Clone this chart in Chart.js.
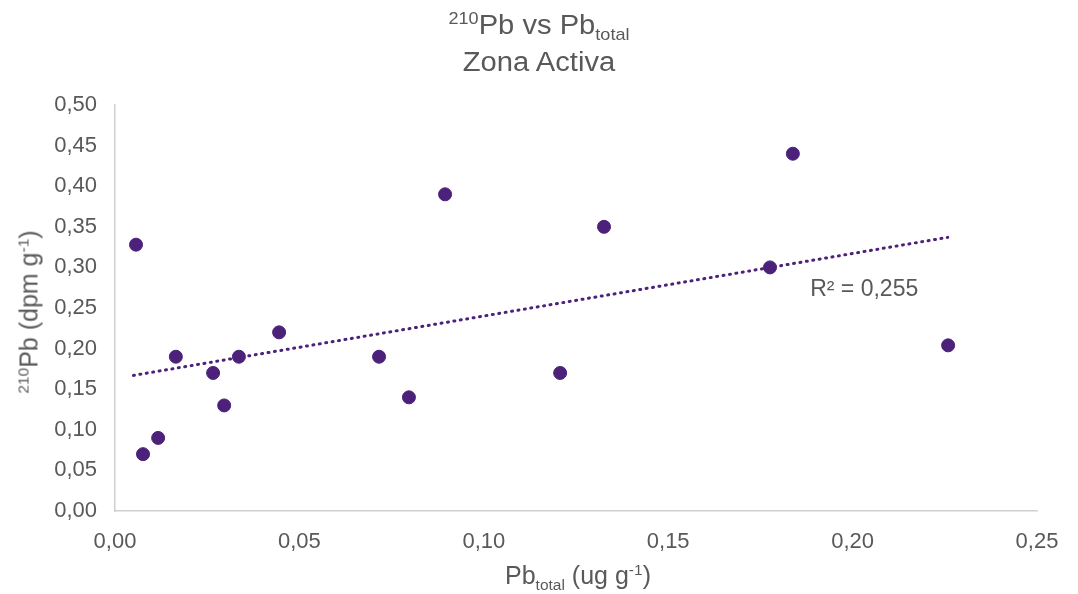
<!DOCTYPE html>
<html>
<head>
<meta charset="utf-8">
<script src="https://cdn.jsdelivr.net/npm/chart.js@4.4.1/dist/chart.umd.min.js"></script>
<style>
  html, body { margin: 0; padding: 0; background: #fff; }
  #wrap { position: relative; width: 1078px; height: 594px; font-family: "Liberation Sans", Arial, sans-serif; color: #595959; }
  canvas { position: absolute; left: 0; top: 0; }
  .lbl { position: absolute; white-space: nowrap; line-height: 1; }
  sup, sub { font-size: 62%; line-height: 0; }
  .title { left: 0; width: 1078px; text-align: center; font-size: 27px; transform: scaleX(1.08); }
  #title1 { top: 12px; }
  #title2 { top: 49px; }
  #xTitle { left: 0; width: 1156px; top: 563px; text-align: center; font-size: 25px; }
  #yTitle { left: 29px; top: 312px; font-size: 25px; transform: translate(-50%, -50%) rotate(-90deg); }
</style>
</head>
<body>
<div id="wrap">
  <canvas id="scatterChart" width="1078" height="594"></canvas>
  <div class="lbl title" id="title1"><sup>210</sup>Pb vs Pb<sub>total</sub></div>
  <div class="lbl title" id="title2">Zona Activa</div>
  <div class="lbl" id="yTitle"><sup>210</sup>Pb (dpm g<sup>-1</sup>)</div>
  <div class="lbl" id="xTitle">Pb<sub>total</sub> (ug g<sup>-1</sup>)</div>
</div>
<script>
// Datos
const pbTotal = [0.0057, 0.0076, 0.0117, 0.0165, 0.0266, 0.0296, 0.0336, 0.0445, 0.0716, 0.0797, 0.0895, 0.1207, 0.1326, 0.1776, 0.1838, 0.2259];
const pb210   = [0.328,  0.070,  0.090,  0.190,  0.170,  0.130,  0.190,  0.220,  0.190,  0.140,  0.390,  0.170,  0.350,  0.300,  0.440,  0.204];

// Línea de tendencia (extremos)
const trendX = [0.0050, 0.2258];
const trendY = [0.167, 0.337];
const r2Text = 'R² = 0,255';

const purple = '#4b2179';
const grey = '#595959';

const fmt = v => v.toFixed(2).replace('.', ',');

// Etiqueta R²
const r2Label = {
    id: 'r2Label',
    afterDatasetsDraw(chart) {
        const { ctx, scales } = chart;
        ctx.save();
        ctx.font = '23px "Liberation Sans", Arial, sans-serif';
        ctx.fillStyle = grey;
        ctx.textBaseline = 'middle';
        ctx.fillText(r2Text, scales.x.getPixelForValue(0.1885), scales.y.getPixelForValue(0.272));
        ctx.restore();
    }
};

new Chart(document.getElementById('scatterChart').getContext('2d'), {
    type: 'scatter',
    data: {
        datasets: [
            {
                label: 'Pb210',
                data: pbTotal.map((x, i) => ({ x: x, y: pb210[i] })),
                backgroundColor: purple,
                borderColor: purple,
                pointRadius: 6.5,
                pointHoverRadius: 6.5,
                order: 1
            },
            {
                label: 'Tendencia',
                type: 'line',
                data: trendX.map((x, i) => ({ x: x, y: trendY[i] })),
                borderColor: purple,
                borderWidth: 3,
                borderDash: [1, 5.5],
                borderCapStyle: 'round',
                pointRadius: 0,
                fill: false,
                order: 2
            }
        ]
    },
    options: {
        responsive: false,
        animation: false,
        layout: { padding: { top: 105, right: 41, left: 0, bottom: 0 } },
        plugins: {
            legend: { display: false },
            tooltip: { enabled: false }
        },
        scales: {
            x: {
                type: 'linear',
                min: 0,
                max: 0.25,
                afterFit: s => { s.height = 83; },
                grid: { display: false },
                border: { display: true, color: '#d0d0d0', width: 1.5 },
                ticks: {
                    stepSize: 0.05,
                    padding: 10,
                    color: grey,
                    font: { family: '"Liberation Sans", Arial, sans-serif', size: 22 },
                    callback: v => fmt(v)
                }
            },
            y: {
                min: 0,
                max: 0.5,
                afterFit: s => { s.width = 115; },
                grid: { display: false },
                border: { display: true, color: '#d0d0d0', width: 1.5 },
                ticks: {
                    stepSize: 0.05,
                    padding: 10,
                    color: grey,
                    font: { family: '"Liberation Sans", Arial, sans-serif', size: 22 },
                    callback: v => fmt(v)
                }
            }
        }
    },
    plugins: [r2Label]
});
</script>
</body>
</html>
